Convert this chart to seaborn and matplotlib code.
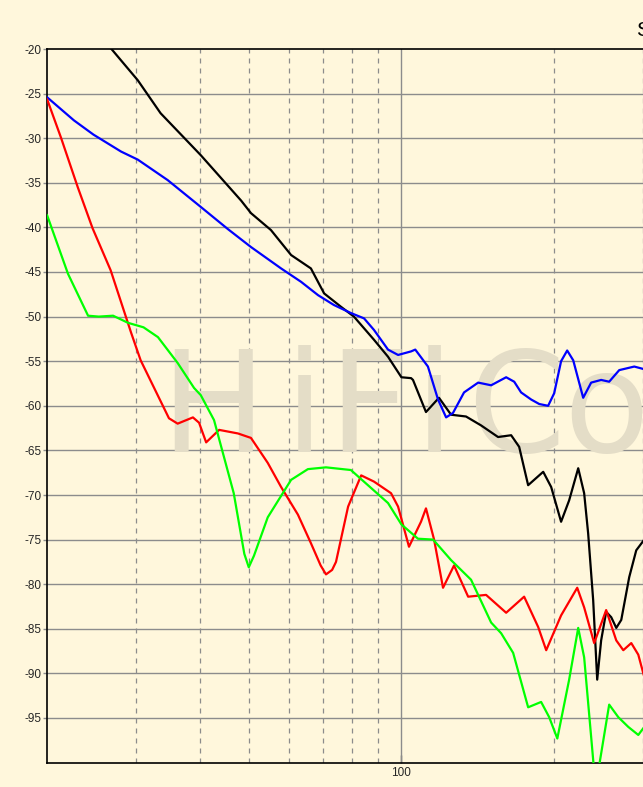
import numpy as np
import pandas as pd
import matplotlib
matplotlib.use("Agg")
import matplotlib.pyplot as plt
import seaborn as sns

# ---------------- data (Hz, dB) ----------------
black_f = [25.5, 26.8, 30.2, 33.5, 40.2, 48.3, 50.5, 55.3, 60.6, 66.3, 70.4, 76.0, 80.6, 88.3,
           94.1, 100.0, 104.5, 105.4, 111.8, 118.6, 125.3, 134.1, 143.6, 155.1, 164.6, 170.7,
           177.8, 190.4, 197.4, 206.5, 214.2, 223.2, 229.3, 233.5, 238.9, 243.3, 247.7, 253.4,
           259.3, 265.3, 271.4, 281.4, 290.5, 301.3]
black_db = [-18.6, -20.0, -23.5, -27.2, -31.9, -37.0, -38.4, -40.3, -43.1, -44.6, -47.4, -48.9, -50.0, -52.6,
            -54.5, -56.8, -56.9, -57.1, -60.7, -59.1, -61.0, -61.2, -62.2, -63.5, -63.3, -64.6,
            -68.9, -67.4, -69.1, -73.0, -70.6, -67.0, -69.8, -74.3, -81.8, -90.7, -86.3, -83.1,
            -83.7, -84.9, -84.0, -79.2, -76.2, -75.0]

blue_f = [20.0, 22.6, 24.7, 28.0, 30.2, 34.6, 40.2, 45.5, 50.5, 57.9, 63.4, 68.5, 73.6, 79.5,
          84.4, 88.3, 94.1, 98.5, 104.5, 106.5, 112.8, 118.1, 122.5, 126.4, 132.9, 141.7, 150.3,
          160.9, 166.9, 172.2, 180.3, 187.0, 194.7, 200.1, 206.5, 212.3, 218.2, 228.3, 236.7,
          247.7, 256.9, 268.9, 287.9, 301.3]
blue_db = [-25.4, -28.0, -29.6, -31.5, -32.4, -34.7, -37.7, -40.2, -42.2, -44.6, -46.1, -47.6, -48.7, -49.6,
           -50.2, -51.5, -53.7, -54.3, -53.9, -53.7, -55.6, -59.3, -61.3, -60.8, -58.5, -57.4, -57.7,
           -56.8, -57.3, -58.5, -59.3, -59.8, -60.0, -58.6, -55.0, -53.8, -54.9, -59.1, -57.4,
           -57.1, -57.3, -56.0, -55.6, -55.9]

red_f = [20.0, 21.3, 23.0, 24.6, 26.7, 29.3, 30.6, 34.8, 36.2, 38.8, 39.9, 41.2, 43.7, 47.6,
         50.5, 54.5, 57.9, 62.5, 66.3, 69.3, 71.0, 73.0, 74.3, 78.5, 83.3, 88.3, 95.4, 98.5, 103.5,
         109.3, 111.8, 116.0, 120.8, 127.0, 135.4, 146.9, 160.9, 174.6, 186.1, 193.0, 206.5, 222.2,
         229.3, 240.0, 253.4, 265.3, 273.9, 284.0, 293.2, 301.3]
red_db = [-25.6, -29.9, -35.5, -40.1, -44.8, -51.8, -54.9, -61.4, -62.0, -61.3, -61.9, -64.1, -62.7, -63.1,
          -63.6, -66.4, -69.1, -72.2, -75.4, -77.9, -78.9, -78.4, -77.5, -71.3, -67.8, -68.5, -69.8, -71.3,
          -75.8, -73.0, -71.5, -75.0, -80.4, -77.9, -81.4, -81.2, -83.2, -81.4, -84.8, -87.4, -83.5,
          -80.4, -82.6, -86.6, -82.9, -86.3, -87.4, -86.6, -87.9, -90.4]

green_f = [20.0, 22.0, 24.1, 25.3, 27.0, 28.9, 31.0, 33.1, 36.2, 39.0, 40.2, 42.7, 46.7, 49.0,
           50.0, 51.2, 54.5, 60.6, 65.4, 71.0, 79.5, 85.9, 94.1, 100.0, 107.8, 115.5, 125.3, 137.2,
           150.3, 157.3, 166.1, 177.8, 188.6, 195.6, 203.0, 214.2, 223.2, 229.3, 240.0, 244.4,
           256.9, 267.7, 280.2, 293.2, 301.3]
green_db = [-38.6, -45.2, -49.9, -50.0, -49.9, -50.7, -51.2, -52.3, -55.2, -58.0, -58.8, -61.6, -69.8, -76.6,
            -78.1, -76.8, -72.5, -68.3, -67.1, -66.9, -67.2, -68.9, -70.9, -73.3, -74.9, -75.0, -77.3,
            -79.5, -84.3, -85.5, -87.7, -93.8, -93.2, -94.9, -97.3, -90.7, -84.9, -88.2, -101.0,
            -101.0, -93.5, -94.9, -96.0, -96.9, -96.0]

series_names = ["black", "blue", "red", "green"]
series_colors = ["#000000", "#0000FF", "#FF0000", "#00FF00"]

y_ticks = list(range(-95, -15, 5))
x_minor_grid = [30, 40, 50, 60, 70, 80, 90, 200, 300]
x_major = [100]

# ---------------- build long-form frame ----------------
frames = []
for name, f, d in zip(series_names,
                      [black_f, blue_f, red_f, green_f],
                      [black_db, blue_db, red_db, green_db]):
    frames.append(pd.DataFrame({"freq": f, "db": d, "series": name}))
df = pd.concat(frames, ignore_index=True)

sns.set_theme(style="white")
plt.rcParams["font.family"] = ["Liberation Sans", "DejaVu Sans"]

bg = "#FFF7DC"
fig = plt.figure(figsize=(6.43, 7.87), dpi=100, facecolor=bg)
ax = fig.add_axes([47 / 643, 1 - 762.6 / 787, 1 - 47 / 643 + 0.002, (762.6 - 49) / 787])
ax.set_facecolor(bg)

ax.set_xscale("log")
ax.set_xlim(20, 301.3)
ax.set_ylim(-100, -20)

# grid
for yv in range(-95, -20, 5):
    ax.axhline(yv, color="#8C8C8C", lw=1.0, zorder=1)
for xv in x_minor_grid:
    ax.axvline(xv, color="#8C8C8C", lw=0.9, ls=(0, (4, 4)), zorder=1)
ax.axvline(100, color="#8C8C8C", lw=1.0, zorder=1)

# watermark letters
wm_color = "#E4DDC7"
letters = [("H", 160), ("i", 284), ("F", 328), ("i", 414), ("C", 466), ("o", 562)]
for ch, px in letters:
    ax.text((px - 47) / 596, (762.6 - 452) / 713.6, ch, transform=ax.transAxes,
            fontsize=101, color=wm_color, ha="left", va="baseline",
            family="DejaVu Sans", zorder=1.5)

sns.lineplot(data=df, x="freq", y="db", hue="series", hue_order=series_names,
             palette=series_colors, estimator=None, sort=False, lw=1.6,
             legend=False, ax=ax, zorder=3)

ax.set_xlabel("")
ax.set_ylabel("")
ax.set_yticks(y_ticks)
ax.set_yticklabels([str(v) for v in y_ticks])
ax.set_xticks(x_major)
ax.set_xticklabels(["100"])
ax.xaxis.set_minor_locator(matplotlib.ticker.NullLocator())
ax.tick_params(axis="y", which="major", length=3, width=1, color="#8C8C8C",
               labelsize=8.5, pad=1, left=True, direction="out")
ax.tick_params(axis="x", which="major", length=6, width=1, color="#555555",
               labelsize=8.5, pad=3, bottom=True, direction="in")

for s in ["left", "bottom", "top"]:
    ax.spines[s].set_visible(True)
    ax.spines[s].set_color("#000000")
    ax.spines[s].set_linewidth(1.2)
ax.spines["right"].set_visible(False)

fig.text(636 / 643, 1 - 31 / 787, "S", fontsize=15, ha="left", va="center",
         color="#000000")

fig.savefig("out.png", dpi=100, facecolor=bg)
